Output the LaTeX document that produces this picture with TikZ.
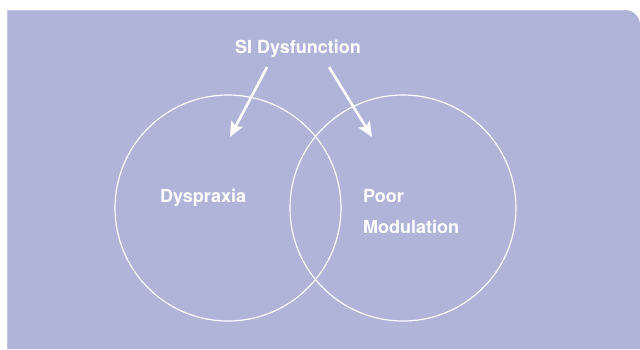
\documentclass[tikz,border=0pt]{standalone}
\usepackage{fontspec}
\setmainfont{TeX Gyre Heros}
\usepackage{xcolor}
\definecolor{lavBg}{HTML}{AFB4D8}
\definecolor{lavEdge}{HTML}{C2C6E2}
\usetikzlibrary{arrows.meta,positioning}
\tikzset{
  ring/.style={circle,draw=white,line width=1.2pt,minimum size=226pt,inner sep=0pt},
  lbl/.style={font=\fontsize{18}{31}\selectfont\bfseries,text=white,inner sep=0pt,align=left},
  pointer/.style={-{Stealth[length=15pt,width=13pt,inset=3pt]},line width=2.6pt,white}}

\begin{document}
\begin{tikzpicture}[x=1pt,y=-1pt]
  \useasboundingbox (0,0) rectangle (640,349);
  % panel
  \fill[lavBg] (7,349) -- (7,10) -- (625,10) arc[start angle=-90,end angle=0,radius=15] -- (640,349) -- cycle;
  \draw[lavEdge,line width=1pt] (7.5,349) -- (7.5,10.5) -- (624,10.5);
  % sets
  \node[ring] (dyspraxia) at (228,208) {};
  \node[ring] (modulation) at (403,208) {};
  \node[lbl,anchor=base west] (dysptext) at (160,202) {Dyspraxia};
  \node[lbl,anchor=base west] (modtext) at (363,233) {Poor\\Modulation};
  \node[lbl,anchor=base west] (title) at (235,53) {SI Dysfunction};
  \coordinate (tipL) at (230,137);
  \coordinate (tipR) at (372,137);
  \draw[pointer] ([xshift=-31pt,yshift=-10pt]title.south) -- (tipL);
  \draw[pointer] ([xshift=31pt,yshift=-10pt]title.south) -- (tipR);
\end{tikzpicture}
\end{document}
